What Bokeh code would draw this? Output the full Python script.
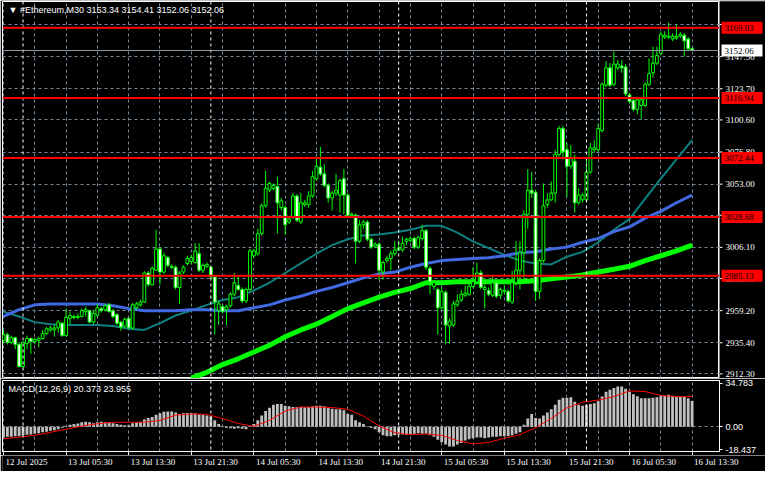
import pandas as pd
from bokeh.plotting import figure
from bokeh.models import Range1d, FixedTicker, Span, Label
from bokeh.models import ColumnDataSource
from bokeh.layouts import column, row
from bokeh.embed import file_html
from bokeh.resources import INLINE

# ---------------- data ----------------
symbol = "#Ethereum,M30"
start_time = "2025-07-12 21:30"

opens = [
    2937.1, 2941.4, 2935.7, 2939.2, 2934.2, 2917.8, 2934.9, 2938.5, 2936.4, 2937.1,
    2938.5, 2942.1, 2944.9, 2944.9, 2946.4, 2949.9, 2940.7, 2953.5, 2954.9, 2954.2,
    2954.9, 2958.5, 2959.2, 2950.7, 2955.7, 2960.7, 2959.9, 2963.5, 2959.2, 2956.4,
    2950.7, 2947.8, 2953.5, 2946.4, 2961.4, 2963.5, 2965.6, 2987.1, 2978.5, 2989.2,
    3004.9, 2987.8, 2998.5, 2992.1, 2991.4, 2976.4, 2987.8, 2994.2, 2995.6, 2994.9,
    3001.4, 2989.2, 2992.1, 2991.4, 2984.2, 2959.2, 2962.1, 2959.9, 2962.8, 2971.4,
    2977.8, 2974.9, 2966.4, 2974.9, 2999.9, 3001.4, 3016.3, 3037.0, 3048.5, 3049.9,
    3051.3, 3035.6, 3035.6, 3024.9, 3028.5, 3044.2, 3024.9, 3037.8, 3037.8, 3044.2,
    3057.0, 3065.6, 3060.6, 3052.0, 3042.8, 3046.3, 3044.9, 3057.0, 3044.9, 3029.9,
    3029.9, 3010.6, 3022.8, 3024.9, 3012.1, 3007.0, 3008.5, 2987.8, 2996.3, 2997.8,
    3001.4, 3004.2, 3004.2, 3010.6, 3011.3, 3012.8, 3006.3, 3012.8, 3018.5, 2990.6,
    2977.1, 2974.9, 2961.4, 2972.8, 2947.8, 2948.5, 2963.5, 2967.1, 2970.6, 2971.4,
    2977.1, 2980.6, 2987.1, 2974.9, 2974.2, 2970.6, 2979.9, 2970.6, 2973.5, 2973.5,
    2965.6, 2979.9, 2989.2, 3002.1, 3030.6, 3048.5, 3047.0, 2973.5, 2996.3, 3037.8,
    3041.3, 3046.3, 3074.9, 3094.2, 3078.5, 3066.3, 3069.9, 3039.2, 3041.3, 3041.3,
    3062.0, 3078.5, 3078.5, 3092.7, 3126.3, 3139.2, 3127.0, 3139.2, 3140.6, 3139.9,
    3119.2, 3114.9, 3108.4, 3111.3, 3111.3, 3127.0, 3135.6, 3142.7, 3149.9, 3162.0,
    3162.0, 3160.6, 3161.3, 3162.7, 3163.4, 3160.6, 3153.34,
]
highs = [
    2944.9, 2942.8, 2940.7, 2939.9, 2935.7, 2936.4, 2940.7, 2939.2, 2939.2, 2939.9,
    2944.9, 2947.1, 2947.8, 2948.5, 2952.1, 2950.7, 2960.7, 2958.5, 2956.4, 2957.1,
    2960.7, 2962.1, 2959.9, 2959.2, 2964.2, 2962.1, 2964.2, 2964.9, 2960.7, 2957.1,
    2951.4, 2954.2, 2954.2, 2964.9, 2965.6, 2967.1, 2988.5, 2988.5, 2992.1, 3019.2,
    3006.4, 3002.1, 2999.9, 2993.5, 2992.8, 2988.5, 2992.8, 2999.9, 3000.6, 3009.2,
    3009.2, 2994.2, 2994.9, 2992.1, 2985.6, 2966.4, 2963.5, 2963.5, 2972.8, 2987.1,
    2985.6, 2976.4, 2976.4, 3004.9, 3004.9, 3019.9, 3038.5, 3062.8, 3054.9, 3053.5,
    3058.5, 3042.8, 3037.0, 3028.5, 3046.3, 3045.6, 3046.3, 3041.3, 3047.8, 3062.8,
    3073.5, 3080.6, 3067.7, 3053.5, 3047.8, 3060.6, 3057.0, 3064.2, 3046.3, 3032.0,
    3031.3, 3026.3, 3026.3, 3026.3, 3013.5, 3009.9, 3009.9, 2996.3, 2999.9, 3003.5,
    3010.6, 3010.6, 3014.2, 3013.5, 3014.2, 3014.2, 3014.9, 3022.8, 3019.9, 2992.1,
    2982.1, 2976.4, 2976.4, 2974.2, 2953.5, 2966.4, 2971.4, 2974.9, 2977.8, 2979.2,
    2991.4, 2994.9, 2989.2, 2978.5, 2976.4, 2985.6, 2982.1, 2976.4, 2977.8, 2974.9,
    2988.5, 3010.6, 3010.6, 3033.5, 3064.2, 3062.0, 3048.5, 2997.8, 3053.5, 3046.3,
    3054.9, 3078.5, 3096.3, 3096.3, 3083.5, 3082.0, 3074.9, 3049.9, 3046.3, 3071.3,
    3083.5, 3085.6, 3097.7, 3128.4, 3144.1, 3142.7, 3151.3, 3144.9, 3144.9, 3142.0,
    3120.6, 3117.0, 3117.7, 3117.7, 3128.4, 3146.3, 3154.9, 3154.9, 3166.3, 3166.3,
    3172.7, 3164.9, 3171.3, 3165.6, 3164.9, 3162.0, 3154.41,
]
lows = [
    2934.9, 2934.2, 2934.2, 2930.7, 2917.1, 2916.4, 2930.7, 2927.1, 2934.2, 2932.1,
    2937.8, 2941.4, 2943.5, 2939.9, 2942.8, 2939.9, 2939.9, 2949.2, 2952.8, 2952.8,
    2954.2, 2954.9, 2949.9, 2949.2, 2954.9, 2957.8, 2958.5, 2957.8, 2953.5, 2948.5,
    2944.2, 2946.4, 2945.7, 2944.9, 2959.9, 2962.1, 2964.9, 2977.1, 2977.8, 2988.5,
    2978.5, 2986.4, 2991.4, 2989.9, 2974.9, 2964.2, 2986.4, 2992.8, 2993.5, 2994.2,
    2987.8, 2987.1, 2990.6, 2982.8, 2941.4, 2948.5, 2957.1, 2948.5, 2961.4, 2969.9,
    2974.2, 2964.9, 2964.9, 2973.5, 2998.5, 2999.9, 3014.9, 3035.6, 3047.1, 3048.5,
    3016.3, 3033.5, 3015.6, 3023.5, 3027.0, 3024.9, 3023.5, 3036.3, 3035.6, 3042.8,
    3055.6, 3059.2, 3050.6, 3039.2, 3033.5, 3044.2, 3032.0, 3030.6, 3028.5, 3027.8,
    2994.2, 3009.2, 3019.9, 3010.6, 3004.9, 3005.6, 2982.1, 2982.1, 2994.9, 2989.2,
    2999.9, 3003.5, 3002.8, 3007.8, 3009.9, 3004.9, 3004.9, 3011.3, 2989.2, 2971.4,
    2974.9, 2941.4, 2959.9, 2934.2, 2934.9, 2947.1, 2962.1, 2965.6, 2969.2, 2969.9,
    2975.6, 2979.2, 2974.9, 2960.7, 2969.9, 2969.2, 2968.5, 2967.8, 2971.4, 2964.9,
    2964.2, 2977.8, 2974.9, 2982.1, 3019.9, 3042.8, 2966.4, 2967.8, 2994.9, 3035.6,
    3040.6, 3039.2, 3073.5, 3071.3, 3043.5, 3064.2, 3032.0, 3037.8, 3039.2, 3039.9,
    3060.6, 3076.3, 3077.0, 3091.3, 3124.9, 3124.9, 3125.6, 3137.7, 3135.6, 3118.4,
    3112.7, 3107.0, 3104.9, 3101.3, 3109.9, 3125.6, 3132.0, 3141.3, 3148.4, 3160.6,
    3160.6, 3159.1, 3159.9, 3161.3, 3147.7, 3152.0, 3152.06,
]
closes = [
    2941.4, 2935.7, 2939.2, 2934.2, 2917.8, 2935.7, 2938.5, 2936.4, 2937.8, 2938.5,
    2942.1, 2945.7, 2946.4, 2946.4, 2950.7, 2940.7, 2954.2, 2955.7, 2954.2, 2954.9,
    2959.2, 2959.9, 2950.7, 2957.1, 2961.4, 2959.2, 2962.8, 2958.5, 2954.9, 2949.9,
    2947.1, 2952.8, 2946.4, 2963.5, 2964.2, 2965.6, 2987.1, 2978.5, 2990.6, 3004.9,
    2987.8, 2999.9, 2992.8, 2991.4, 2976.4, 2987.1, 2991.4, 2997.8, 2998.5, 3003.5,
    2989.2, 2992.8, 2993.5, 2984.2, 2965.6, 2964.2, 2958.5, 2962.1, 2971.4, 2979.9,
    2974.9, 2966.4, 2974.9, 3003.5, 3003.5, 3016.3, 3037.0, 3049.9, 3053.5, 3052.0,
    3039.2, 3040.6, 3022.8, 3027.0, 3044.2, 3026.3, 3039.2, 3039.2, 3044.2, 3058.5,
    3066.3, 3060.6, 3052.0, 3042.8, 3046.3, 3048.5, 3055.6, 3044.9, 3029.9, 3030.6,
    3010.6, 3022.8, 3024.9, 3012.1, 3006.3, 3008.5, 2989.2, 2994.9, 2997.8, 3001.4,
    3004.2, 3005.6, 3009.2, 3012.1, 3012.8, 3006.3, 3013.5, 3018.5, 2991.4, 2980.6,
    2979.9, 2961.4, 2973.5, 2948.5, 2951.4, 2964.2, 2966.4, 2971.4, 2972.1, 2977.1,
    2980.6, 2987.1, 2976.4, 2976.4, 2971.4, 2979.9, 2969.9, 2974.9, 2974.2, 2966.4,
    2979.9, 2989.2, 3002.1, 3030.6, 3048.5, 3046.3, 2973.5, 2996.3, 3037.0, 3041.3,
    3046.3, 3074.9, 3094.2, 3077.0, 3066.3, 3072.7, 3039.2, 3044.9, 3044.9, 3062.0,
    3079.9, 3079.9, 3094.2, 3127.0, 3139.2, 3126.3, 3142.0, 3142.0, 3139.2, 3119.9,
    3114.2, 3108.4, 3115.6, 3115.6, 3127.0, 3134.9, 3142.7, 3148.4, 3164.1, 3163.4,
    3162.7, 3162.7, 3162.7, 3164.1, 3159.2, 3153.4, 3152.06,
]

# moving averages, read every 4 bars
ma_bars = list(range(0, 177, 4))
ma_teal = [
    2958.5, 2954.9, 2950.7, 2949.2, 2948.5, 2948.5, 2948.5, 2947.8, 2945.7, 2944.9,
    2949.9, 2955.6, 2959.2, 2963.5, 2967.1, 2969.2, 2974.2, 2979.9, 2987.1, 2994.2,
    3001.4, 3007.8, 3012.1, 3014.9, 3015.6, 3017.1, 3019.2, 3022.1, 3022.1, 3017.1,
    3010.6, 3005.6, 3000.6, 2996.3, 2994.2, 2993.5, 2999.2, 3002.8, 3009.9, 3019.2,
    3027.1, 3042.3, 3057.0, 3071.3, 3085.6,
]
ma_blue = [
    2954.9, 2959.9, 2963.5, 2964.2, 2964.2, 2964.2, 2964.2, 2962.8, 2960.7, 2959.2,
    2959.2, 2959.2, 2959.9, 2959.9, 2959.2, 2959.2, 2961.4, 2963.5, 2967.1, 2969.9,
    2973.5, 2976.4, 2979.9, 2983.5, 2986.4, 2987.8, 2991.4, 2994.2, 2996.3, 2997.1,
    2997.8, 2998.5, 2999.9, 3002.1, 3002.8, 3004.9, 3006.3, 3009.9, 3012.8, 3017.8,
    3021.3, 3027.8, 3032.8, 3039.2, 3044.9,
]
ma_slow_bars = list(range(48, 177, 4))
ma_lime = [
    2909.2, 2913.5, 2919.2, 2923.5, 2928.5, 2933.5, 2939.9, 2944.9, 2949.2, 2954.9,
    2960.7, 2964.9, 2969.2, 2972.8, 2975.6, 2979.9, 2979.9, 2980.6, 2980.6, 2980.6,
    2980.6, 2980.6, 2981.4, 2982.8, 2984.2, 2985.6, 2987.8, 2989.9, 2992.1, 2996.3,
    2999.9, 3003.5, 3007.8,
]

levels = [3169.03, 3116.94, 3072.44, 3028.68, 2985.13]
price_ticks = [2912.30, 2935.40, 2959.20, 2983.00, 3006.10, 3029.90, 3053.00,
               3076.80, 3100.60, 3123.70, 3147.50, 3171.30]
hidden_price_ticks = [3029.90, 3171.30]

macd_hist = [
    -8.6, -8.1, -8.1, -7.6, -7.6, -6.9, -6.4, -6.2, -5.7, -5.2,
    -4.5, -4.0, -3.3, -2.8, -2.0, -0.8, 0.4, 1.6, 2.1, 2.6,
    3.5, 4.0, 3.5, 2.8, 3.5, 4.0, 3.5, 3.3, 2.8, 2.1,
    1.6, 1.1, 1.1, 2.8, 3.3, 4.0, 5.7, 6.9, 7.7, 9.4,
    10.6, 11.8, 12.1, 12.1, 11.3, 10.1, 10.6, 10.8, 10.8, 10.6,
    10.1, 9.4, 8.9, 8.4, 5.2, 2.1, 0.4, -0.8, -1.3, -1.6,
    -1.3, -1.6, -2.0, 0.4, 2.1, 5.2, 8.9, 12.5, 15.0, 17.4,
    18.1, 18.1, 16.7, 16.2, 15.7, 15.7, 15.7, 15.5, 15.7, 16.2,
    16.7, 16.7, 16.2, 15.0, 14.2, 13.8, 13.8, 13.0, 10.1, 9.4,
    5.2, 3.5, 2.1, 0.4, -0.8, -2.0, -4.5, -6.9, -7.6, -7.6,
    -6.9, -6.4, -6.2, -6.4, -6.2, -5.7, -5.2, -5.7, -5.7, -6.9,
    -8.1, -10.5, -12.5, -14.2, -15.9, -15.9, -14.2, -13.0, -11.0, -10.1,
    -9.3, -8.6, -8.6, -9.3, -8.6, -8.1, -8.1, -7.6, -7.6, -7.6,
    -6.9, -5.7, -4.5, 1.6, 6.5, 10.1, 6.9, 6.5, 8.9, 11.3,
    13.8, 17.4, 21.5, 23.0, 23.0, 23.5, 19.8, 17.4, 16.7, 17.4,
    18.1, 18.6, 20.3, 24.0, 27.8, 29.5, 30.8, 32.0, 32.0, 30.3,
    27.8, 25.9, 24.2, 22.7, 22.7, 22.7, 23.0, 23.5, 24.7, 24.7,
    25.4, 24.7, 24.2, 24.0, 24.0, 22.7, 20.373,
]
macd_signal = [
    -9.6, -8.4, -6.9, -4.5, -2.0, 0.4, 2.3, 3.5, 3.5, 3.5,
    5.0, 9.2, 10.1, 9.8, 6.5, 2.5, 0.2, 5.0, 12.5, 15.7,
    15.6, 15.3, 13.8, 8.5, 0.5, -4.8, -6.4, -5.8, -7.0, -11.0,
    -13.7, -12.5, -9.3, -6.4, -0.8, 6.5, 15.0, 19.5, 21.2, 24.0,
    28.5, 28.0, 24.8, 24.0, 23.955,
]
macd_ticks = [-18.437, 0.0, 34.783]

x_tick_labels = ["12 Jul 2025", "13 Jul 05:30", "13 Jul 13:30", "13 Jul 21:30",
                 "14 Jul 05:30", "14 Jul 13:30", "14 Jul 21:30", "15 Jul 05:30",
                 "15 Jul 13:30", "15 Jul 21:30", "16 Jul 05:30", "16 Jul 13:30"]

# ---------------- derived ----------------
n = len(closes)
times = pd.date_range(start_time, periods=n, freq="30min")
idx = list(range(n))
day_sep = [i for i, t in enumerate(times) if t.hour == 0 and t.minute == 0]
grid_bars = [i for i, t in enumerate(times) if t.minute == 30 and t.hour % 4 == 1]
tick_bars = [i for i, t in enumerate(times) if t.strftime("%H:%M") in ("05:30", "13:30", "21:30")]

bull = [c >= o for o, c in zip(opens, closes)]
src = ColumnDataSource(dict(
    x=idx, open=opens, high=highs, low=lows, close=closes,
    top=[max(o, c) for o, c in zip(opens, closes)],
    bottom=[min(o, c) for o, c in zip(opens, closes)],
    fill=["black" if b else "white" for b in bull],
))

FONT = "Liberation Sans"
FS = "9px"
FW = 717          # chart frame width
SW = 46           # price-scale strip width
MH = 377          # main frame height
GRID = "#778899"
LIME = "#00FF00"
xr = Range1d(-0.25, 183.0)
yr = Range1d(2908.9, 3188.4)


def base_fig(**kw):
    f = figure(output_backend="svg", toolbar_location=None,
               background_fill_color="black", border_fill_color="black", **kw)
    return f


def style_grid(fig):
    fig.xgrid.ticker = FixedTicker(ticks=grid_bars)
    for g in (fig.xgrid, fig.ygrid):
        g.grid_line_color = GRID
        g.grid_line_dash = "3 3"
        g.grid_line_width = 1
    for d in day_sep:
        fig.add_layout(Span(location=d, dimension="height", line_color="white",
                            line_dash="3 3", line_width=1))


# ---------------- main price panel ----------------
p = base_fig(frame_width=FW, frame_height=MH, x_range=xr, y_range=yr,
             x_axis_location=None, y_axis_location=None,
             outline_line_color="white", outline_line_width=1,
             min_border_left=2, min_border_right=0, min_border_top=1, min_border_bottom=0)
style_grid(p)
p.ygrid.ticker = FixedTicker(ticks=price_ticks)

p.line(ma_bars, ma_teal, line_color="#0E8080", line_width=2)
p.line(ma_bars, ma_blue, line_color="#4169E1", line_width=3)
p.line(ma_slow_bars, ma_lime, line_color=LIME, line_width=5)

p.segment(x0="x", y0="low", x1="x", y1="high", source=src, line_color=LIME, line_width=1)
p.vbar(x="x", width=0.72, top="top", bottom="bottom", source=src,
       fill_color="fill", line_color=LIME, line_width=1)

p.add_layout(Span(location=closes[-1], dimension="width", line_color="#8C99A6", line_width=1))
for lv in levels:
    p.add_layout(Span(location=lv, dimension="width", line_color="#FF0000", line_width=2))

header = f"\u25BC {symbol}  {opens[-1]:.2f} {highs[-1]:.2f} {lows[-1]:.2f} {closes[-1]:.2f}"
p.add_layout(Label(x=6, y=MH - 3, x_units="screen", y_units="screen", text=header,
                   text_font=FONT, text_font_size=FS, text_color="white",
                   text_align="left", text_baseline="top"))

# ---------------- price scale strip (shares the price range) ----------------
s = base_fig(frame_width=SW, frame_height=MH, x_range=Range1d(0, SW), y_range=yr,
             x_axis_location=None, y_axis_location=None, outline_line_color=None,
             min_border_left=0, min_border_right=0, min_border_top=1, min_border_bottom=0)
s.xgrid.visible = False
s.ygrid.visible = False
shown_ticks = [t for t in price_ticks if t not in hidden_price_ticks]
s.segment(x0=0, x1=3, y0=price_ticks, y1=price_ticks, line_color="white", line_width=1)
s.text(x=6, y=shown_ticks, text=[f"{t:.2f}" for t in shown_ticks],
       text_font=FONT, text_font_size=FS, text_color="white",
       text_align="left", text_baseline="middle")
tag_y = levels + [closes[-1]]
tag_bg = ["#FF0000"] * len(levels) + ["#FFFFFF"]
s.rect(x=22.5, y=tag_y, width=41, height=12, height_units="screen",
       fill_color=tag_bg, line_color=None)
s.text(x=5, y=tag_y, text=[f"{v:.2f}" for v in tag_y],
       text_font=FONT, text_font_size=FS, text_color="black",
       text_align="left", text_baseline="middle")

# ---------------- MACD panel ----------------
m_yr = Range1d(-19.8, 36.8)
m = base_fig(frame_width=FW, frame_height=71, x_range=xr, y_range=m_yr,
             y_axis_location="right", x_axis_location="below",
             outline_line_color="white", outline_line_width=1,
             min_border_left=2, min_border_right=SW, min_border_top=2, min_border_bottom=0)
style_grid(m)
m.ygrid.ticker = FixedTicker(ticks=[0])
m.yaxis.ticker = FixedTicker(ticks=macd_ticks)
m.yaxis.major_label_overrides = {-18.437: "-18.437", 0.0: "0.00", 34.783: "34.783"}
for ax in m.yaxis:
    ax.axis_line_color = "white"
    ax.major_tick_line_color = "white"
    ax.minor_tick_line_color = None
    ax.major_tick_out = 3
    ax.major_tick_in = 0
    ax.major_label_standoff = 3
    ax.major_label_text_color = "white"
    ax.major_label_text_font = FONT
    ax.major_label_text_font_size = FS

m.vbar(x=idx, top=macd_hist, width=0.72, fill_color="#C0C0C0", line_color=None)
m.line(ma_bars, macd_signal, line_color="#FF0000", line_width=1)

m.xaxis.ticker = FixedTicker(ticks=tick_bars)
m.xaxis.major_label_overrides = {b: "" for b in tick_bars}
m.xaxis.axis_line_color = "white"
m.xaxis.major_tick_line_color = "white"
m.xaxis.minor_tick_line_color = None
m.xaxis.major_tick_out = 4
m.xaxis.major_tick_in = 0
m.xaxis.major_label_standoff = 0
m.xaxis.major_label_text_font_size = "1px"

m.add_layout(Label(x=6, y=71 - 3, x_units="screen", y_units="screen",
                   text=f"MACD(12,26,9) {macd_hist[-1]:.3f} {macd_signal[-1]:.3f}",
                   text_font=FONT, text_font_size=FS, text_color="white",
                   text_align="left", text_baseline="top"))

# ---------------- time scale strip (same bar spacing, left-aligned labels) -------
bars_per_px = (xr.end - xr.start) / FW
dw = FW + SW
d = base_fig(frame_width=dw, frame_height=16,
             x_range=Range1d(xr.start, xr.start + dw * bars_per_px), y_range=Range1d(0, 1),
             x_axis_location=None, y_axis_location=None, outline_line_color=None,
             min_border_left=2, min_border_right=0, min_border_top=0, min_border_bottom=0)
d.xgrid.visible = False
d.ygrid.visible = False
d.text(x=tick_bars, y=[1] * len(tick_bars), text=x_tick_labels, x_offset=2, y_offset=1,
       text_font=FONT, text_font_size=FS, text_color="white",
       text_align="left", text_baseline="top")

layout = column(row(p, s, spacing=0), m, d, spacing=0)
open("out.html", "w").write(file_html(layout, INLINE))
